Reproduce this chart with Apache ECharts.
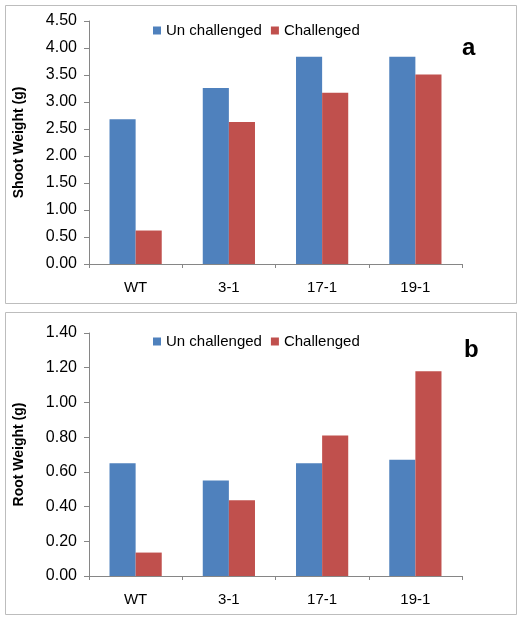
<!DOCTYPE html>
<html>
<head>
<meta charset="utf-8">
<script src="https://cdn.jsdelivr.net/npm/echarts@6/dist/echarts.min.js"></script>
<style>
html,body{margin:0;padding:0;background:#fff;}
#c{width:523px;height:622px;}
</style>
</head>
<body>
<div id="c"></div>
<script>
var categories = ['WT', '3-1', '17-1', '19-1'];
var seriesNames = ['Un challenged', 'Challenged'];
var shootUnchallenged = [2.68, 3.26, 3.84, 3.84];
var shootChallenged = [0.62, 2.63, 3.17, 3.51];
var rootUnchallenged = [0.65, 0.55, 0.65, 0.67];
var rootChallenged = [0.135, 0.436, 0.81, 1.18];
var shootTicks = {min: 0, max: 4.5, interval: 0.5};
var rootTicks = {min: 0, max: 1.4, interval: 0.2};

var FONT = '"Liberation Sans", Arial, sans-serif';
var BLUE = '#4F81BD', RED = '#C0504D', AXIS = '#868686';

function xAxis(gi) {
  return {
    type: 'category', gridIndex: gi, data: categories,
    axisLine: {lineStyle: {color: AXIS, width: 1}},
    axisTick: {show: true, length: 4, lineStyle: {color: AXIS}, alignWithLabel: false},
    axisLabel: {color: '#000', fontSize: 15, fontFamily: FONT, margin: 16}
  };
}
function yAxis(gi, t, name) {
  return {
    type: 'value', gridIndex: gi, min: t.min, max: t.max, interval: t.interval,
    name: name, nameLocation: 'middle', nameGap: 63,
    nameTextStyle: {color: '#000', fontSize: 14, fontWeight: 'bold', fontFamily: FONT},
    axisLine: {show: true, lineStyle: {color: AXIS, width: 1}},
    axisTick: {show: true, length: 5, lineStyle: {color: AXIS}},
    splitLine: {show: false},
    axisLabel: {color: '#000', fontSize: 16, fontFamily: FONT, margin: 12,
      formatter: function (v) { return v.toFixed(2); }}
  };
}
function bar(name, data, gi, color) {
  return {
    type: 'bar', name: name, data: data, xAxisIndex: gi, yAxisIndex: gi,
    barGap: '0%', barCategoryGap: '44%',
    itemStyle: {color: color},
    emphasis: {disabled: true}
  };
}
function legend(top) {
  return {
    data: seriesNames, left: 153, top: top, itemWidth: 8, itemHeight: 8, itemGap: 9,
    icon: 'rect', padding: 0,
    textStyle: {color: '#000', fontSize: 15, fontFamily: FONT}
  };
}

var chart = echarts.init(document.getElementById('c'), null, {renderer: 'canvas'});
chart.setOption({
  animation: false,
  backgroundColor: '#fff',
  graphic: [
    {type: 'rect', shape: {x: 5.5, y: 5.5, width: 511, height: 298}, style: {fill: 'none', stroke: '#bdbdbd', lineWidth: 1}, z: -1},
    {type: 'rect', shape: {x: 5.5, y: 312.5, width: 511, height: 302}, style: {fill: 'none', stroke: '#bdbdbd', lineWidth: 1}, z: -1}
  ],
  title: [
    {text: 'a', left: 462, top: 36, textStyle: {fontSize: 24, fontWeight: 'bold', color: '#000', fontFamily: FONT}, padding: 0},
    {text: 'b', left: 464, top: 338, textStyle: {fontSize: 24, fontWeight: 'bold', color: '#000', fontFamily: FONT}, padding: 0}
  ],
  legend: [legend(23), legend(334)],
  grid: [
    {left: 89, top: 21, width: 373, height: 243},
    {left: 89, top: 333, width: 373, height: 243}
  ],
  xAxis: [xAxis(0), xAxis(1)],
  yAxis: [yAxis(0, shootTicks, 'Shoot Weight (g)'), yAxis(1, rootTicks, 'Root Weight (g)')],
  series: [
    bar(seriesNames[0], shootUnchallenged, 0, BLUE),
    bar(seriesNames[1], shootChallenged, 0, RED),
    bar(seriesNames[0], rootUnchallenged, 1, BLUE),
    bar(seriesNames[1], rootChallenged, 1, RED)
  ]
});
</script>
</body>
</html>
